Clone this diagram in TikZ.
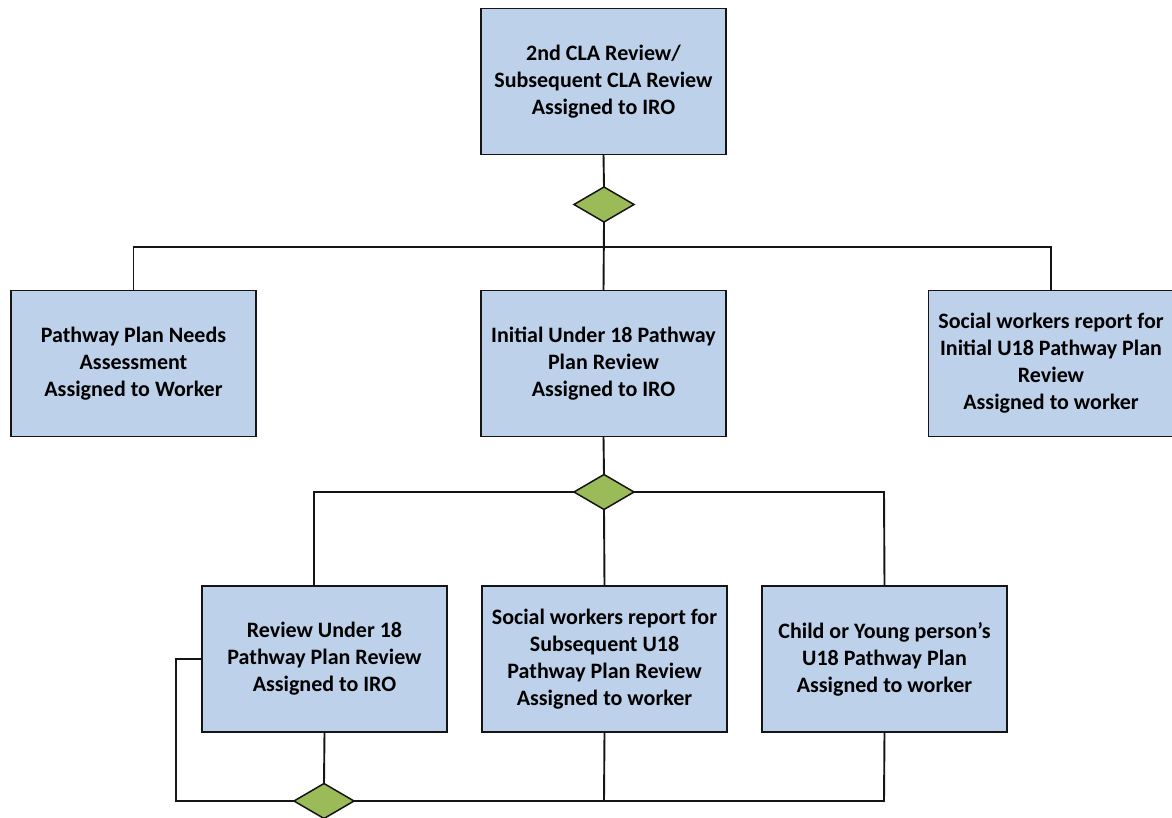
\documentclass[tikz,border=0pt]{standalone}
\usepackage{fontspec}
\setmainfont{Carlito}
\usetikzlibrary{shapes.geometric}
\definecolor{boxfill}{HTML}{BDD1EA}
\definecolor{decfill}{HTML}{9BBB59}
\definecolor{edge}{HTML}{151515}
\tikzset{
  procbox/.style={draw=edge, line width=1.9pt, fill=boxfill, rectangle,
    minimum width=245pt, minimum height=146pt, inner sep=2pt, outer sep=0pt,
    align=center, font=\fontsize{22}{27}\selectfont\bfseries},
  decision/.style={draw=edge, line width=1.5pt, fill=decfill, diamond,
    minimum width=60pt, minimum height=35pt, inner sep=0pt, outer sep=0pt},
  conn/.style={draw=edge, line width=1.9pt}
}
\begin{document}
\begin{tikzpicture}[x=1pt,y=-1pt]
\useasboundingbox (0,0) rectangle (1172,818);
% boxes
\node[procbox] (top) at (603.5,81.5) {2nd CLA Review/\\Subsequent CLA Review\\Assigned to IRO};
\node[procbox] (ml) at (133.5,363.5) {Pathway Plan Needs\\Assessment\\Assigned to Worker};
\node[procbox] (mm) at (603.5,363.5) {Initial Under 18 Pathway\\Plan Review\\Assigned to IRO};
\node[procbox] (mr) at (1051,363.5) {Social workers report for\\Initial U18 Pathway Plan\\Review\\Assigned to worker};
\node[procbox] (bl) at (324.5,659) {Review Under 18\\Pathway Plan Review\\Assigned to IRO};
\node[procbox] (bm) at (604.5,659) {Social workers report for\\Subsequent U18\\Pathway Plan Review\\Assigned to worker};
\node[procbox] (br) at (884.5,659) {Child or Young person’s\\U18 Pathway Plan\\Assigned to worker};
% decisions
\node[decision] (d1) at (604,204.5) {};
\node[decision] (d2) at (604,492) {};
\node[decision] (d3) at (324,801) {};
% junction coordinates
\coordinate (h1) at (604,247);
\coordinate (j1) at (314,492);
\coordinate (j2) at (884,492);
\coordinate (l1) at (176,659);
\coordinate (l2) at (176,801);
\coordinate (b1) at (604,801);
\coordinate (b2) at (884,801);
% connectors
\draw[conn] (top.south) -- (d1.north);
\draw[conn] (d1.south) -- (mm.north);
\draw[conn] (ml.north) |- (h1) -| (mr.north);
\draw[conn] (mm.south) -- (d2.north);
\draw[conn] (d2.south) -- (bm.north);
\draw[conn] (d2.west) -- (j1) -- (j1 |- bl.north);
\draw[conn] (d2.east) -- (j2) -- (br.north);
\draw[conn] (bl.south) -- (d3.north);
\draw[conn] (bl.west) -- (l1) -- (l2) -- (d3.west);
\draw[conn] (d3.east) -- (b1) -- (b2) -- (br.south);
\draw[conn] (bm.south) -- (b1);
\end{tikzpicture}
\end{document}
